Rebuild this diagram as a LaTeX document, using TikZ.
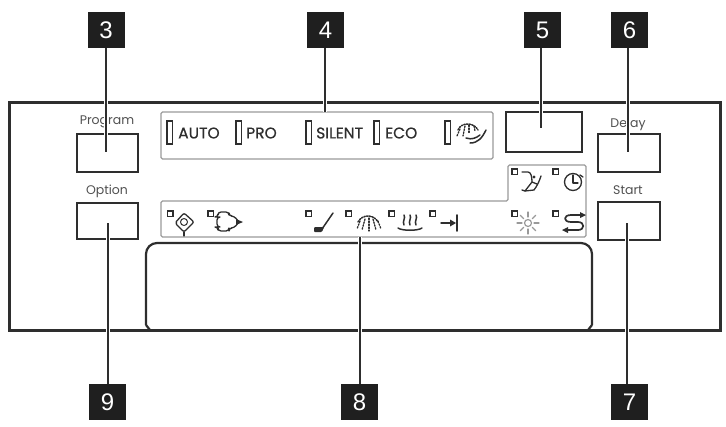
\documentclass[tikz,border=0pt]{standalone}
\usepackage{fontspec}
\setmainfont{Poppins}
\newfontfamily\numfont{Liberation Sans}
\newfontfamily\modefont[FakeBold=0.6]{Poppins}
\usetikzlibrary{calc}
\definecolor{ink}{HTML}{2E2E2E}
\definecolor{panelgray}{HTML}{9A9A9A}
\definecolor{labelgray}{HTML}{505050}
\tikzset{
  numbox/.style={draw=none,fill=black!88,minimum width=37pt,minimum height=36pt,inner sep=0pt,text=white,font=\numfont\fontsize{24}{24}\selectfont},
  leader/.style={draw=ink,line width=1.5pt,preaction={draw=white,line width=4.5pt}},
  btn/.style={draw=ink,line width=1.5pt,fill=white},
  toplabel/.style={inner sep=0pt,text=labelgray,font=\fontsize{12.5}{12.5}\selectfont},
  modelabel/.style={inner sep=0pt,anchor=west,text=ink,font=\modefont\fontsize{15.5}{15.5}\selectfont},
  grayframe/.style={draw=panelgray,line width=1.3pt,rounded corners=1.5pt},
  bigled/.style={draw=ink,line width=1.2pt},
  smallled/.style={draw=ink,line width=1.3pt},
  ic/.style={draw=ink,line width=1.3pt,line cap=round,line join=round},
  icg/.style={draw=gray!80,line width=1.2pt,line cap=round}
}
\begin{document}
\begin{tikzpicture}[x=1pt,y=-1pt]
\useasboundingbox (0,0) rectangle (726,426);
% panel
\draw[ink,line width=3pt] (9,102) rectangle (720,330);
% gray frames
\draw[grayframe] (161,112) rectangle (493,159);
\draw[grayframe] (161,201) -- (508,201) -- (508,165) -- (586,165) -- (586,237) -- (161,237) -- cycle;
\draw[ink,line width=2.2pt,rounded corners=11pt] (146,325) -- (146,243) -- (592,243) -- (592,325);
\draw[ink,line width=2.2pt] (146,325) -- (150,330) (592,325) -- (588,330);
% labels
\node[toplabel] (lprog) at (107,122) {Program};
\node[toplabel] (lopt) at (107,191) {Option};
\node[toplabel] (ldelay) at (628,124) {Delay};
\node[toplabel] (lstart) at (628,190) {Start};
% buttons
\draw[btn] (77,134) rectangle (138,172);
\draw[btn] (77,203) rectangle (138,239);
\draw[btn] (598,134) rectangle (660,172);
\draw[btn] (598,202) rectangle (660,240);
\draw[ink,line width=2.6pt] (598,202) -- (660,202) (598,240) -- (660,240);
\draw[ink,line width=1.7pt] (506,112) rectangle (582,152);
% number boxes
\node[numbox] (n3) at (106,30) {3};
\node[numbox] (n4) at (325.5,30) {4};
\node[numbox] (n5) at (542.5,30) {5};
\node[numbox] (n6) at (629.5,30) {6};
\node[numbox] (n9) at (107.5,402) {9};
\node[numbox] (n8) at (359.5,402) {8};
\node[numbox] (n7) at (629.5,402) {7};
% leader ends
\coordinate (e3) at (106,152);
\coordinate (e4) at (325,112);
\coordinate (e5) at (541,128);
\coordinate (e6) at (628,152);
\coordinate (e9) at (108,223);
\coordinate (e8) at (360,237);
\coordinate (e7) at (627,223);
\draw[leader] (n3.south -| e3) -- (e3);
\draw[leader] (n4.south -| e4) -- (e4);
\draw[leader] (n5.south -| e5) -- (e5);
\draw[leader] (n6.south -| e6) -- (e6);
\draw[leader] (n9.north -| e9) -- (e9);
\draw[leader] (n8.north -| e8) -- (e8);
\draw[leader] (n7.north -| e7) -- (e7);
% big LEDs and mode labels
\foreach \x in {167,236,306,374,445} \draw[bigled] (\x,121) rectangle ++(5.5,23);
\node[modelabel] (auto) at (178,133) {AUTO};
\node[modelabel] (pro) at (246,133) {PRO};
\node[modelabel] (silent) at (316,133) {SILENT};
\node[modelabel] (eco) at (385,133) {ECO};
% small LEDs
\foreach \x in {167.5,208,306,346,389,430,512,553} \draw[smallled] (\x,211) rectangle ++(5.5,5.5);
\foreach \x in {512,553} \draw[smallled] (\x,169) rectangle ++(5.5,5.5);
% tag icon
\draw[ic,rounded corners=2pt] (184,213) -- (194,222) -- (184,232) -- (175,223) -- cycle;
\draw[ic,line width=1pt] (184,222) circle (3.5);
\draw[ic] (184,232) -- (184,236);
% salt cross icon
\draw[ic,rounded corners=3pt] (218,212) -- (229,212) -- (229,216) -- (234,216) -- (239,222) -- (234,228) -- (229,228) -- (229,231) -- (218,231) -- (218,227) -- (217,227) -- (217,217) -- (218,217) -- cycle;
\fill[ink] (236,219) -- (243,222) -- (236,225) -- cycle;
% brush icon
\draw[ic,line width=1.5pt] (333,213) -- (322,229);
\fill[ink,rounded corners=1pt] (314,227) -- (324,227) -- (322,232) -- (314,232) -- cycle;
% shower icon
\draw[ic,line width=1.5pt,dash pattern=on 1.5pt off 1.2pt] (358,222) .. controls (362,214) and (374,214) .. (378,222);
\foreach \a/\b/\c/\d in {360/221/357/229,365/219/362/230,369/218/369/231,373/219/376/230,378/221/381/229}
  \draw[ic,dash pattern=on 1.5pt off 1.5pt] (\a,\b) -- (\c,\d);
% steam icon
\foreach \x in {404,410,416} \draw[ic,line width=1.5pt] (\x,215) .. controls (\x+2,218) and (\x-2,221) .. (\x,225);
\draw[ic,line width=1.5pt] (398,228) .. controls (402,231) and (418,231) .. (422,228);
% arrow to bar icon
\draw[ic,line width=1.5pt] (441,223) -- (454,223);
\fill[ink] (450,219.5) -- (456,223) -- (450,226.5) -- cycle;
\draw[ic,line width=1.7pt] (457,215) -- (457,231);
% rinse aid icon
\draw[ic] (522,172) -- (528,172) .. controls (531,172) and (532,177) .. (532,182) -- (525,191) -- (522,190);
\draw[ic] (525,191) -- (534,190) .. controls (537,186) and (539,182) .. (541,176);
\draw[ic] (532,182) -- (537,184);
\fill[ink] (534,177) circle (1.7);
% clock icon
\draw[ic] (573,182) circle (8.5);
\draw[ic] (573,175) -- (573,183) -- (578,183);
\draw[ic] (580,175) -- (583,177);
% sun icon
\draw[icg] (528,223) circle (3.5);
\foreach \a in {0,45,...,315} \draw[icg] ($(528,223)+(\a:6)$) -- ($(528,223)+(\a:11)$);
% loop arrows icon
\draw[ic,line width=1.7pt] (581,215) -- (571,215) .. controls (563,215) and (563,222) .. (571,222) -- (578,222) .. controls (585,222) and (585,230) .. (578,230) -- (566,230);
\fill[ink] (580,212) -- (586,215) -- (580,218) -- cycle;
\fill[ink] (568,227) -- (562,230) -- (568,233) -- cycle;
% hand shower icon
\draw[ic,line width=1.5pt,dash pattern=on 1.5pt off 1.2pt] (458,130) .. controls (461,122) and (474,122) .. (478,130);
\foreach \a/\b/\c/\d in {460/129/457/136,465/126/463/136,469/125/469/133,474/126/475/131}
  \draw[ic,dash pattern=on 1.5pt off 1.5pt] (\a,\b) -- (\c,\d);
\draw[ic,line width=1.5pt] (470,143) .. controls (478,143) and (482,138) .. (486,130);
\draw[ic,line width=1.5pt] (466,138) .. controls (472,140) and (476,138) .. (480,135);
\end{tikzpicture}
\end{document}
